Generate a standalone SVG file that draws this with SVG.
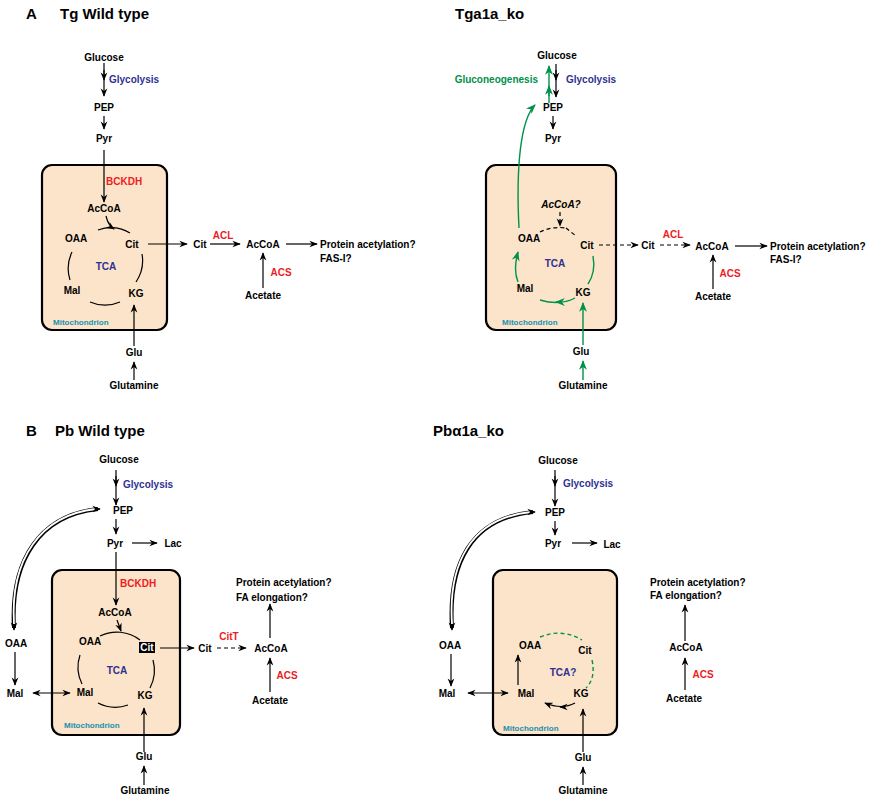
<svg xmlns="http://www.w3.org/2000/svg" width="878" height="800" viewBox="0 0 878 800">
<style>
text{font-family:"Liberation Sans",Arial,sans-serif;font-weight:bold;font-size:10px;fill:#000;text-anchor:middle}
.t{font-size:15px;text-anchor:start}
.l{text-anchor:start}
.b{fill:#2e3192}
.r{fill:#ed1c24}
.g{fill:#00914a}
.m{fill:#1a8fb0;font-size:8px;text-anchor:start}
.box{fill:#fbe4c9;stroke:#000;stroke-width:2.2}
.k{fill:none;stroke:#000;stroke-width:1.2}
.d{stroke-dasharray:4 3}
.gr{fill:none;stroke:#00914a;stroke-width:1.4}
.dbl{fill:none;stroke:#000;stroke-width:4}
.dbli{fill:none;stroke:#fff;stroke-width:1.8}
</style>
<defs>
<marker id="a" viewBox="0 0 10 10" refX="9" refY="5" markerWidth="7" markerHeight="7" orient="auto-start-reverse"><path d="M0,1 L10,5 L0,9 L3,5z" fill="#000"/></marker>
<marker id="ag" viewBox="0 0 10 10" refX="9" refY="5" markerWidth="7" markerHeight="7" orient="auto-start-reverse"><path d="M0,1 L10,5 L0,9 L3,5z" fill="#00914a"/></marker>
</defs>
<!-- Panel A left -->
<g id="panelA-left">
<text class="t" x="26" y="19">A</text><text class="t" x="60" y="19">Tg Wild type</text>
<rect class="box" x="42" y="165" width="125" height="165" rx="10"/>
<text x="104" y="61">Glucose</text><text class="l b" x="109" y="83">Glycolysis</text>
<text x="104" y="111">PEP</text><text x="104" y="142">Pyr</text>
<text class="l r" x="106" y="185">BCKDH</text>
<text x="104" y="212">AcCoA</text><text x="76" y="242">OAA</text><text x="132" y="248">Cit</text>
<text class="b" x="106" y="270" font-size="12">TCA</text><text x="72" y="294">Mal</text><text x="136" y="297">KG</text>
<text class="m" x="53" y="325">Mitochondrion</text>
<text x="200" y="248">Cit</text><text class="r" x="223" y="239">ACL</text><text x="263" y="248">AcCoA</text>
<text class="l" x="320" y="248">Protein acetylation?</text><text class="l" x="320" y="262">FAS-I?</text>
<text x="263" y="299">Acetate</text><text class="r" x="281" y="276">ACS</text>
<text x="134" y="356">Glu</text><text x="134" y="389">Glutamine</text>
</g>
<g id="edges-A-left">
<path class="k" d="M104,63 V96" marker-end="url(#a)"/><path class="k" d="M104,70 V80" marker-end="url(#a)"/>
<path class="k" d="M104,116 V129" marker-end="url(#a)"/>
<path class="k" d="M104,150 V202" marker-end="url(#a)"/>
<path class="k" d="M106,216 Q108,225 114,229" marker-end="url(#a)"/>
<path class="k" d="M98,230 A38,38 0 0 1 130,233"/>
<path class="k" d="M142,254 A38,38 0 0 1 136,282"/>
<path class="k" d="M90,302 A38,38 0 0 0 120,302"/>
<path class="k" d="M70,280 A38,38 0 0 1 72,252"/>
<path class="k" d="M148,244 H187" marker-end="url(#a)"/>
<path class="k" d="M210,244 H240" marker-end="url(#a)"/>
<path class="k" d="M286,244 H317" marker-end="url(#a)"/>
<path class="k" d="M263,288 V253" marker-end="url(#a)"/>
<path class="k" d="M134,346 V305" marker-end="url(#a)"/>
<path class="k" d="M134,380 V362" marker-end="url(#a)"/>
</g>
<!-- Panel A right -->
<g id="panelA-right">
<text class="t" x="455" y="19">Tga1a_ko</text>
<rect class="box" x="486" y="165" width="130" height="165" rx="10"/>
<text x="557" y="59">Glucose</text><text class="l b" x="566" y="83">Glycolysis</text>
<text class="g" x="538" y="83" style="text-anchor:end">Gluconeogenesis</text>
<text x="553" y="111">PEP</text><text x="553" y="142">Pyr</text>
<text x="561" y="208" font-style="italic">AcCoA?</text>
<text x="529" y="242">OAA</text><text x="587" y="249">Cit</text>
<text class="b" x="555" y="267" font-size="12">TCA</text><text x="525" y="292">Mal</text><text x="583" y="296">KG</text>
<text class="m" x="502" y="325">Mitochondrion</text>
<text x="648" y="249">Cit</text><text class="r" x="673" y="238">ACL</text><text x="712" y="250">AcCoA</text>
<text class="l" x="770" y="250">Protein acetylation?</text><text class="l" x="770" y="263">FAS-I?</text>
<text x="713" y="300">Acetate</text><text class="r" x="730" y="277">ACS</text>
<text x="581" y="355">Glu</text><text x="583" y="389">Glutamine</text>
</g>
<g id="edges-A-right">
<path class="k" d="M556,64 V97" marker-end="url(#a)"/><path class="k" d="M556,70 V80" marker-end="url(#a)"/>
<path class="k" d="M553,116 V129" marker-end="url(#a)"/>
<path class="gr" d="M549,103 V66" marker-end="url(#ag)"/><path class="gr" d="M549,96 V86" marker-end="url(#ag)"/>
<path class="gr" d="M519,228 C516,170 520,120 535,105" marker-end="url(#ag)"/>
<path class="k d" d="M560,212 V226" marker-end="url(#a)"/>
<path class="k d" d="M540,232 Q552,226 566,228"/><path class="k d" d="M566,228 L576,236"/>
<path class="gr" d="M593,256 Q596,272 588,284"/>
<path class="gr" d="M575,298 Q560,306 540,300" marker-mid="url(#ag)"/>
<path class="gr" d="M560,302 L556,302" marker-end="url(#ag)"/>
<path class="gr" d="M518,282 Q513,270 518,252" marker-end="url(#ag)"/>
<path class="k d" d="M599,245 H638" marker-end="url(#a)"/>
<path class="k d" d="M660,245 H690" marker-end="url(#a)"/>
<path class="k" d="M735,246 H767" marker-end="url(#a)"/>
<path class="k" d="M713,289 V255" marker-end="url(#a)"/>
<path class="gr" d="M583,345 V303" marker-end="url(#ag)"/>
<path class="gr" d="M583,380 V361" marker-end="url(#ag)"/>
</g>
<!-- Panel B left -->
<g id="panelB-left">
<text class="t" x="26" y="436">B</text><text class="t" x="55" y="436">Pb Wild type</text>
<rect class="box" x="52" y="570" width="128" height="165" rx="10"/>
<text x="119" y="463">Glucose</text><text class="l b" x="123" y="488">Glycolysis</text>
<text x="123" y="514">PEP</text><text x="115" y="547">Pyr</text><text x="173" y="547">Lac</text>
<text class="l r" x="120" y="587">BCKDH</text>
<text x="115" y="616">AcCoA</text><text x="90" y="645">OAA</text>
<rect x="139" y="642" width="16" height="11" fill="#000"/><text x="147" y="651" style="fill:#fff" font-size="8">Cit</text>
<text class="b" x="117" y="674" font-size="12">TCA</text><text x="85" y="696">Mal</text><text x="145" y="699">KG</text>
<text class="m" x="64" y="728">Mitochondrion</text>
<text x="16" y="647">OAA</text><text x="15" y="697">Mal</text>
<text x="205" y="652">Cit</text><text class="r" x="229" y="640">CitT</text><text x="271" y="652">AcCoA</text>
<text class="l" x="236" y="586">Protein acetylation?</text><text class="l" x="236" y="601">FA elongation?</text>
<text x="270" y="704">Acetate</text><text class="r" x="287" y="679">ACS</text>
<text x="144" y="760">Glu</text><text x="145" y="794">Glutamine</text>
</g>
<g id="edges-B-left">
<path class="k" d="M116,470 V505" marker-end="url(#a)"/><path class="k" d="M116,476 V486" marker-end="url(#a)"/>
<path class="k" d="M116,519 V534" marker-end="url(#a)"/>
<path class="k" d="M132,543 H157" marker-end="url(#a)"/>
<path class="k" d="M116,552 V605" marker-end="url(#a)"/>
<path class="k" d="M117,620 L121,631" marker-end="url(#a)"/>
<path class="k" d="M100,636 A38,38 0 0 1 140,640"/>
<path class="k" d="M153,660 A38,38 0 0 1 150,688"/>
<path class="k" d="M98,703 A38,38 0 0 0 128,705"/>
<path class="k" d="M82,684 A38,38 0 0 1 80,655"/>
<path class="dbl" d="M98,509 C40,515 10,560 14,628"/><path class="dbli" d="M96,509 C40,515 10,560 14,624"/>
<path class="k" d="M96,509 H100" marker-end="url(#a)"/><path class="k" d="M14,624 V630" marker-end="url(#a)"/>
<path class="k" d="M15,652 V685" marker-end="url(#a)"/>
<path class="k" d="M33,693 H70" marker-start="url(#a)" marker-end="url(#a)"/>
<path class="k" d="M160,648 H194" marker-end="url(#a)"/>
<path class="k d" d="M217,648 H246" marker-end="url(#a)"/>
<path class="k" d="M270,638 V604" marker-end="url(#a)"/>
<path class="k" d="M270,692 V658" marker-end="url(#a)"/>
<path class="k" d="M144,752 V708" marker-end="url(#a)"/>
<path class="k" d="M144,785 V766" marker-end="url(#a)"/>
</g>
<!-- Panel B right -->
<g id="panelB-right">
<text class="t" x="433" y="436">Pbα1a_ko</text>
<rect class="box" x="493" y="570" width="124" height="165" rx="10"/>
<text x="558" y="464">Glucose</text><text class="l b" x="563" y="487">Glycolysis</text>
<text x="555" y="516">PEP</text><text x="553" y="547">Pyr</text><text x="612" y="548">Lac</text>
<text x="530" y="649">OAA</text><text x="585" y="654">Cit</text>
<text class="b" x="563" y="676" font-size="12">TCA?</text><text x="526" y="697">Mal</text><text x="581" y="697">KG</text>
<text class="m" x="503" y="731">Mitochondrion</text>
<text x="450" y="649">OAA</text><text x="447" y="697">Mal</text>
<text class="l" x="650" y="586">Protein acetylation?</text><text class="l" x="650" y="599">FA elongation?</text>
<text x="686" y="651">AcCoA</text><text class="r" x="703" y="678">ACS</text><text x="684" y="702">Acetate</text>
<text x="583" y="761">Glu</text><text x="583" y="794">Glutamine</text>
</g>
<g id="edges-B-right">
<path class="k" d="M555,470 V506" marker-end="url(#a)"/><path class="k" d="M555,476 V486" marker-end="url(#a)"/>
<path class="k" d="M555,521 V535" marker-end="url(#a)"/>
<path class="k" d="M572,543 H597" marker-end="url(#a)"/>
<path class="dbl" d="M533,512 C470,518 448,565 452,628"/><path class="dbli" d="M531,512 C470,518 448,565 452,624"/>
<path class="k" d="M531,512 H535" marker-end="url(#a)"/><path class="k" d="M452,624 V630" marker-end="url(#a)"/>
<path class="k" d="M451,654 V686" marker-end="url(#a)"/>
<path class="k" d="M468,693 H508" marker-start="url(#a)" marker-end="url(#a)"/>
<path class="gr d" d="M540,637 Q562,628 582,640"/>
<path class="gr d" d="M592,660 Q596,678 586,688"/>
<path class="k" d="M575,703 Q562,710 545,703" marker-end="url(#a)"/><path class="k" d="M565,707 L560,707" marker-end="url(#a)"/>
<path class="k" d="M518,685 L518,655" marker-end="url(#a)"/>
<path class="k" d="M685,641 V605" marker-end="url(#a)"/>
<path class="k" d="M685,690 V658" marker-end="url(#a)"/>
<path class="k" d="M583,752 V709" marker-end="url(#a)"/>
<path class="k" d="M583,785 V767" marker-end="url(#a)"/>
</g>
</svg>
